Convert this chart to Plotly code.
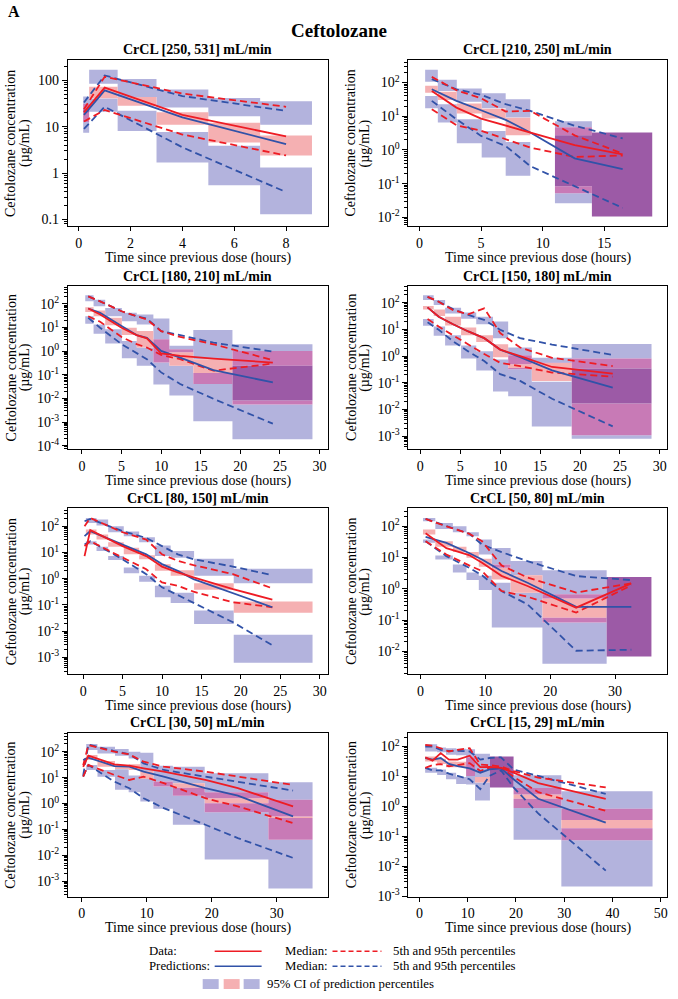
import math
import plotly.graph_objects as go

# ===================== DATA =====================
main_title = "Ceftolozane"
panel_label = "A"
panel_titles = ["CrCL [250, 531] mL/min", "CrCL [210, 250] mL/min",
                "CrCL [180, 210] mL/min", "CrCL [150, 180] mL/min",
                "CrCL [80, 150] mL/min", "CrCL [50, 80] mL/min",
                "CrCL [30, 50] mL/min", "CrCL [15, 29] mL/min"]
x_title = "Time since previous dose (hours)"
y_title_line1 = "Ceftolozane concentration"
y_title_line2 = "(µg/mL)"

# ---- Panel 1: CrCL [250, 531]
p1_t = [0.2, 1, 4, 8]
p1_obs_med = [20.5, 70, 18, 6.2]
p1_obs_p5 = [13, 23, 6.8, 2.4]
p1_obs_p95 = [24, 120, 52, 27]
p1_pred_med = [18, 61, 16, 4.2]
p1_pred_p5 = [9, 27, 3.6, 0.39]
p1_pred_p95 = [33.5, 128, 46, 22]
p1_bin_start = [0.17, 0.4, 1.5, 3, 5, 7]
p1_bin_end = [0.4, 1.5, 3, 5, 7, 9]
p1_ci_p5_low = [7.4, 21, 8.1, 1.69, 0.55, 0.13]
p1_ci_p5_high = [24, 41, 22.3, 7.7, 3.9, 1.32]
p1_ci_med_low = [12.6, 41.4, 28.4, 11, 4.57, 2.4]
p1_ci_med_high = [31, 73, 44, 20.5, 12.2, 6.5]
p1_ci_p95_low = [20, 85, 44, 26, 16.9, 11]
p1_ci_p95_high = [45, 169, 108, 64, 42, 35.7]

# ---- Panel 2: CrCL [210, 250]
p2_t = [1, 3, 5, 7, 9, 12.6, 16.5]
p2_obs_med = [56, 18, 8.5, 5.2, 3.3, 1.38, 0.74]
p2_obs_p5 = [16, 5.4, 3.7, 2.1, 1.17, 0.62, 0.68]
p2_obs_p95 = [147, 59, 34, 13.8, 14.4, 2.7, 0.78]
p2_pred_med = [63, 28.5, 15, 7.8, 3.3, 0.56, 0.27]
p2_pred_p5 = [28.5, 8.1, 2.6, 1.3, 0.33, 0.085, 0.019]
p2_pred_p95 = [126, 63, 43, 22.7, 14.4, 5.2, 2.2]
p2_bin_start = [0.46, 1.49, 3.03, 5.05, 7.0, 11.0, 14.0]
p2_bin_end = [1.49, 3.03, 5.05, 7.0, 9.0, 14.0, 18.9]
p2_ci_p5_low = [17.3, 6.5, 1.58, 0.59, 0.17, 0.026, 0.0105]
p2_ci_p5_high = [40, 22.7, 8.1, 3.66, 1.73, 2.73, 3.3]
p2_ci_med_low = [50, 30.5, 12, 8.5, 2.7, 0.052, 0.0105]
p2_ci_med_high = [80, 53, 24, 16.5, 9.0, 4.7, 3.3]
p2_ci_p95_low = [105, 56, 27, 17.3, 9.1, 0.083, 0.0105]
p2_ci_p95_high = [238, 120, 66, 48, 32, 7.1, 3.3]

# ---- Panel 3: CrCL [180, 210]
p3_t = [0.8, 2.3, 5.0, 6.9, 8.2, 10.0, 12.4, 16.6, 24.1]
p3_obs_med = [64, 36, 9.8, 4.8, 3.5, 0.80, 0.64, 0.49, 0.33]
p3_obs_p5 = [30, 17.6, 4.0, 2.0, 1.43, 0.70, 0.46, 0.15, 0.30]
p3_obs_p95 = [210, 129, 49, 30, 22, 7.1, 4.0, 1.97, 0.42]
p3_pred_med = [64, 42, 11.6, 4.8, 3.7, 1.03, 0.54, 0.16, 0.048]
p3_pred_p5 = [26, 9.8, 2.0, 0.8, 0.46, 0.127, 0.041, 0.0097, 0.00086]
p3_pred_p95 = [210, 129, 49, 30, 24, 7.1, 4.8, 2.3, 0.97]
p3_bin_start = [0.42, 1.47, 2.94, 5.04, 6.92, 9.02, 11.04, 14.06, 19.0]
p3_bin_end = [1.47, 2.94, 5.04, 6.92, 9.02, 11.04, 14.06, 19.0, 29.1]
p3_ci_p5_low = [14.5, 5.5, 2.1, 0.51, 0.24, 0.039, 0.0134, 0.0011, 0.00019]
p3_ci_p5_high = [30, 13.6, 8.4, 2.7, 1.43, 3.2, 0.24, 0.12, 0.24]
p3_ci_med_low = [46, 30, 12.7, 4.8, 1.43, 0.33, 0.24, 0.041, 0.0056]
p3_ci_med_high = [72, 53, 26, 9.8, 7.1, 3.2, 1.2, 0.46, 1.03]
p3_ci_p95_low = [129, 80, 30, 18.6, 13.6, 3.2, 0.9, 0.46, 0.0082]
p3_ci_p95_high = [231, 151, 68, 42, 36, 24, 1.7, 7.85, 1.97]

# ---- Panel 4: CrCL [150, 180]
p4_t = [0.9, 2.3, 4.1, 6.0, 8.0, 10.0, 12.5, 16.5, 24.1]
p4_obs_med = [67, 30, 15.7, 8.4, 4.7, 1.75, 0.99, 0.39, 0.22]
p4_obs_p5 = [24.8, 12.8, 6.0, 2.7, 1.2, 0.56, 0.42, 0.24, 0.17]
p4_obs_p95 = [167, 109, 53, 37, 62, 7.3, 2.1, 0.86, 0.42]
p4_pred_med = [67, 30, 15.7, 8.4, 4.7, 1.75, 0.91, 0.29, 0.066]
p4_pred_p5 = [18.6, 9.7, 3.6, 1.5, 0.65, 0.21, 0.117, 0.025, 0.0023]
p4_pred_p95 = [167, 109, 58, 35, 22.7, 9.7, 4.7, 2.7, 1.1]
p4_bin_start = [0.33, 1.67, 3.1, 5.1, 7.0, 9.1, 11.0, 13.96, 18.96]
p4_bin_end = [1.67, 3.1, 5.1, 7.0, 9.1, 11.0, 13.96, 18.96, 28.96]
p4_ci_p5_low = [13.6, 5.8, 2.5, 0.81, 0.29, 0.047, 0.031, 0.0023, 0.000796]
p4_ci_p5_high = [24.8, 12.8, 6.0, 2.5, 1.52, 0.74, 0.36, 0.11, 0.344]
p4_ci_med_low = [56, 32, 14, 6.0, 3.4, 0.91, 0.32, 0.117, 0.00106]
p4_ci_med_high = [75, 56, 30, 11.8, 6.0, 2.8, 1.08, 0.56, 0.81]
p4_ci_p95_low = [126, 82, 40, 25, 15.7, 4.7, 0.49, 0.55, 0.0168]
p4_ci_p95_high = [193, 126, 65, 43, 30, 19.7, 2.1, 0.86, 2.84]

# ---- Panel 5: CrCL [80, 150]
p5_t = [0.17, 0.9, 5, 8, 10, 12, 14, 19, 24]
p5_obs_med = [7.3, 71, 17.5, 7.3, 2.9, 1.73, 1.12, 0.40, 0.16]
p5_obs_p5 = [17.5, 27, 6.4, 2.3, 0.72, 0.54, 0.32, 0.127, 0.082]
p5_obs_p95 = [100, 207, 59, 31, 8.5, 4.8, 3.3, 1.5, 0.43]
p5_pred_med = [42, 65, 20, 8.5, 3.6, 2.0, 0.97, 0.29, 0.082]
p5_pred_p5 = [20, 27, 5.5, 1.5, 0.47, 0.24, 0.127, 0.022, 0.0029]
p5_pred_p95 = [155, 189, 65, 36, 17.5, 8.5, 5.5, 2.9, 1.37]
p5_bin_start = [0.34, 1.69, 3.17, 5.15, 7.1, 9.1, 11.1, 14.07, 19.1]
p5_bin_end = [1.69, 3.17, 5.15, 7.1, 9.1, 11.1, 14.07, 19.1, 29.1]
p5_ci_p5_low = [20, 11.3, 5.2, 1.63, 0.77, 0.196, 0.12, 0.019, 0.00063]
p5_ci_p5_high = [27, 16.6, 7.3, 2.7, 1.29, 0.54, 0.29, 0.062, 0.0074]
p5_ci_med_low = [48, 31, 16.6, 8.5, 5.5, 2.0, 1.29, 0.38, 0.05]
p5_ci_med_high = [75, 48, 24.8, 15.2, 7.8, 3.6, 2.1, 0.68, 0.135]
p5_ci_p95_low = [134, 106, 59, 42, 24.8, 7.3, 6.3, 1.29, 0.68]
p5_ci_p95_high = [207, 179, 100, 63, 38, 18.6, 11.3, 5.8, 2.4]

# ---- Panel 6: CrCL [50, 80]
p6_t = [0.8, 4, 7.5, 9.5, 12.5, 16.5, 24, 32.5]
p6_obs_med = [60, 20, 12, 6.8, 2.6, 1.23, 0.25, 1.5]
p6_obs_p5 = [33, 12.5, 5.6, 3.7, 0.85, 0.56, 0.174, 1.29]
p6_obs_p95 = [171, 99, 58, 33, 5.6, 2.3, 0.76, 1.5]
p6_pred_med = [46, 29.5, 14, 8.7, 3.7, 1.57, 0.264, 0.264]
p6_pred_p5 = [33, 11.1, 4.7, 2.7, 0.85, 0.32, 0.0105, 0.0113]
p6_pred_p95 = [171, 100, 58, 26, 14.9, 7.7, 2.56, 1.9]
p6_bin_start = [0.4, 2.3, 5.0, 7.1, 9.0, 11.0, 13.9, 18.8, 28.7]
p6_bin_end = [2.3, 5.0, 7.1, 9.0, 11.0, 13.9, 18.8, 28.7, 35.6]
p6_ci_p5_low = [29.5, 8.7, 3.3, 1.9, 0.92, 0.058, 0.058, 0.004, 0.0069]
p6_ci_p5_high = [37.7, 11.6, 6.0, 3.3, 2.6, 1.57, 0.75, 0.12, 2.4]
p6_ci_med_low = [54, 22, 14.9, 9.8, 5.1, 2.0, 0.75, 0.084, 0.0069]
p6_ci_med_high = [78, 33, 22, 14.9, 9.1, 6.0, 2.7, 0.67, 2.4]
p6_ci_p95_low = [144, 82, 64, 48, 12.5, 4.7, 2.7, 0.49, 0.0069]
p6_ci_p95_high = [184, 128, 100, 64, 37.7, 20, 7.7, 3.9, 2.4]

# ---- Panel 7: CrCL [30, 50]
p7_t = [0.2, 1.0, 5, 7.3, 9.5, 12.6, 19, 24, 32.5]
p7_obs_med = [26, 70, 32.6, 29, 22.9, 17, 8.1, 3.9, 0.77]
p7_obs_p5 = [10.9, 30.7, 12.7, 8.1, 10.9, 6.1, 1.6, 0.77, 0.175]
p7_obs_p95 = [30, 180, 100, 79, 41, 26.5, 17, 10.9, 5.2]
p7_pred_med = [48, 59, 28, 26.5, 17, 10.9, 3.9, 2.0, 0.316]
p7_pred_p5 = [10.9, 30.7, 7.0, 3.9, 1.6, 0.66, 0.151, 0.046, 0.0079]
p7_pred_p95 = [12, 191, 106, 79, 35.6, 19.7, 10.9, 7.0, 3.16]
p7_bin_start = [0.67, 2.4, 5.1, 7.2, 9.0, 11.0, 14.0, 18.9, 28.7]
p7_bin_end = [2.4, 5.1, 7.2, 9.0, 11.0, 14.0, 18.9, 28.7, 35.5]
p7_ci_p5_low = [19.7, 10.9, 3.4, 2.7, 1.2, 0.62, 0.151, 0.0068, 0.00052]
p7_ci_p5_high = [30.7, 19.7, 21, 12, 8.9, 5.5, 4.1, 1.03, 0.273]
p7_ci_med_low = [48, 26.5, 21.5, 19.7, 8.9, 4.5, 2.0, 0.46, 0.04]
p7_ci_med_high = [74, 44, 30.5, 33, 18, 7.0, 6.0, 2.7, 1.38]
p7_ci_p95_low = [116, 86, 70, 55, 18, 5.5, 6.0, 1.6, 0.316]
p7_ci_p95_high = [197, 156, 127, 100, 91, 29, 26.5, 14.7, 6.6]

# ---- Panel 8: CrCL [15, 29]
p8_t = [1.2, 2.7, 4.4, 6.1, 7.9, 10.4, 12.6, 14.5, 16.9, 19.5, 24.6, 38.6]
p8_obs_med = [43.7, 34, 60.5, 36.6, 36.6, 49.4, 20.5, 21, 19.5, 13.4, 6.0, 1.79]
p8_obs_p5 = [19.5, 24, 26, 22, 24, 28, 15.2, 19.5, 19.5, 9.7, 3.0, 0.71]
p8_obs_p95 = [113, 108, 88, 68.5, 78, 88, 25, 24, 21.5, 15.2, 9.2, 4.3]
p8_pred_med = [41.5, 36.6, 41.5, 26.4, 22.1, 18.6, 13.4, 17.2, 18.6, 8.1, 1.79, 0.286]
p8_pred_p5 = [19.5, 16, 16, 12.4, 10.4, 8.1, 3.8, 10.4, 16, 4.3, 0.58, 0.0071]
p8_pred_p95 = [100, 100, 78, 72, 72, 68.5, 36.6, 41.5, 43.7, 17.2, 10.4, 2.6]
p8_bin_start = [1.17, 3.66, 5.5, 7.6, 9.66, 11.5, 14.6, 19.5, 29.4]
p8_bin_end = [3.66, 5.5, 7.6, 9.66, 11.5, 14.6, 19.5, 29.4, 48.3]
p8_ci_p5_low = [13.4, 11.2, 8.1, 5.6, 5.4, 1.58, 4.3, 0.077, 0.0021]
p8_ci_p5_high = [19.5, 17.2, 13.4, 9.7, 10.4, 6.3, 47, 1.79, 0.187]
p8_ci_med_low = [32, 26, 20.5, 20.5, 10.4, 6.3, 4.3, 0.89, 0.074]
p8_ci_med_high = [47, 39, 32, 31, 44, 9.7, 47, 4.1, 0.84]
p8_ci_p95_low = [69, 65, 53, 51, 10.4, 9.7, 4.3, 2.5, 0.35]
p8_ci_p95_high = [119, 93, 88, 84, 82, 57.5, 47, 10.9, 3.2]

# ---- Tick values / labels
p1_xticks = [0, 2, 4, 6, 8]
p2_xticks = [0, 5, 10, 15]
p3_xticks = [0, 5, 10, 15, 20, 25, 30]
p4_xticks = [0, 5, 10, 15, 20, 25, 30]
p5_xticks = [0, 5, 10, 15, 20, 25, 30]
p6_xticks = [0, 10, 20, 30]
p7_xticks = [0, 10, 20, 30]
p8_xticks = [0, 10, 20, 30, 40, 50]

p1_yticks = [0.1, 1, 10, 100]
p1_ylabels = ["0.1", "1", "10", "100"]
p2_yticks = [0.01, 0.1, 1, 10, 100]
p2_ylabels = ["10<sup>-2</sup>", "10<sup>-1</sup>", "10<sup>0</sup>", "10<sup>1</sup>", "10<sup>2</sup>"]
p3_yticks = [0.0001, 0.001, 0.01, 0.1, 1, 10, 100]
p3_ylabels = ["10<sup>-4</sup>", "10<sup>-3</sup>", "10<sup>-2</sup>", "10<sup>-1</sup>", "10<sup>0</sup>", "10<sup>1</sup>", "10<sup>2</sup>"]
p4_yticks = [0.001, 0.01, 0.1, 1, 10, 100]
p4_ylabels = ["10<sup>-3</sup>", "10<sup>-2</sup>", "10<sup>-1</sup>", "10<sup>0</sup>", "10<sup>1</sup>", "10<sup>2</sup>"]
p5_yticks = p4_yticks
p5_ylabels = p4_ylabels
p6_yticks = p2_yticks
p6_ylabels = p2_ylabels
p7_yticks = p4_yticks
p7_ylabels = p4_ylabels
p8_yticks = p4_yticks
p8_ylabels = p4_ylabels

legend_data = "Data:"
legend_pred = "Predictions:"
legend_median = "Median:"
legend_pct = "5th and 95th percentiles"
legend_ci = "95% CI of prediction percentiles"

# ===================== LAYOUT / STYLE =====================
W, H = 678, 999
FONT = "Liberation Serif, Times New Roman, serif"
RED = "#ee1c24"
BLUE = "#3152a8"
FILL = {(1, 0): "#b3b3dd", (2, 0): "#9a9ad2", (0, 1): "#f5b0b2",
        (1, 1): "#c87ab6", (2, 1): "#9c5aa6"}

LEFT = (68, 328)
RIGHT = (409, 668)
ROWS = [(60, 228), (288, 452), (512, 679), (738, 903)]
BOXES = [(LEFT, ROWS[0]), (RIGHT, ROWS[0]), (LEFT, ROWS[1]), (RIGHT, ROWS[1]),
         (LEFT, ROWS[2]), (RIGHT, ROWS[2]), (LEFT, ROWS[3]), (RIGHT, ROWS[3])]
XRANGES = [(-0.42, 9.6), (-0.9, 20.1), (-1.77, 31.0), (-1.5, 30.9),
           (-1.94, 31.0), (-1.85, 38.0), (-2.15, 37.8), (-2.3, 51.3)]
YRANGES = [(-1.15, 2.45), (-2.27, 2.68), (-4.13, 2.76), (-3.48, 2.63),
           (-3.64, 2.68), (-2.73, 2.57), (-3.6, 2.73), (-3.02, 2.46)]

panels = [
    (p1_t, p1_obs_med, p1_obs_p5, p1_obs_p95, p1_pred_med, p1_pred_p5, p1_pred_p95,
     p1_bin_start, p1_bin_end, p1_ci_p5_low, p1_ci_p5_high, p1_ci_med_low, p1_ci_med_high,
     p1_ci_p95_low, p1_ci_p95_high, p1_xticks, p1_yticks, p1_ylabels),
    (p2_t, p2_obs_med, p2_obs_p5, p2_obs_p95, p2_pred_med, p2_pred_p5, p2_pred_p95,
     p2_bin_start, p2_bin_end, p2_ci_p5_low, p2_ci_p5_high, p2_ci_med_low, p2_ci_med_high,
     p2_ci_p95_low, p2_ci_p95_high, p2_xticks, p2_yticks, p2_ylabels),
    (p3_t, p3_obs_med, p3_obs_p5, p3_obs_p95, p3_pred_med, p3_pred_p5, p3_pred_p95,
     p3_bin_start, p3_bin_end, p3_ci_p5_low, p3_ci_p5_high, p3_ci_med_low, p3_ci_med_high,
     p3_ci_p95_low, p3_ci_p95_high, p3_xticks, p3_yticks, p3_ylabels),
    (p4_t, p4_obs_med, p4_obs_p5, p4_obs_p95, p4_pred_med, p4_pred_p5, p4_pred_p95,
     p4_bin_start, p4_bin_end, p4_ci_p5_low, p4_ci_p5_high, p4_ci_med_low, p4_ci_med_high,
     p4_ci_p95_low, p4_ci_p95_high, p4_xticks, p4_yticks, p4_ylabels),
    (p5_t, p5_obs_med, p5_obs_p5, p5_obs_p95, p5_pred_med, p5_pred_p5, p5_pred_p95,
     p5_bin_start, p5_bin_end, p5_ci_p5_low, p5_ci_p5_high, p5_ci_med_low, p5_ci_med_high,
     p5_ci_p95_low, p5_ci_p95_high, p5_xticks, p5_yticks, p5_ylabels),
    (p6_t, p6_obs_med, p6_obs_p5, p6_obs_p95, p6_pred_med, p6_pred_p5, p6_pred_p95,
     p6_bin_start, p6_bin_end, p6_ci_p5_low, p6_ci_p5_high, p6_ci_med_low, p6_ci_med_high,
     p6_ci_p95_low, p6_ci_p95_high, p6_xticks, p6_yticks, p6_ylabels),
    (p7_t, p7_obs_med, p7_obs_p5, p7_obs_p95, p7_pred_med, p7_pred_p5, p7_pred_p95,
     p7_bin_start, p7_bin_end, p7_ci_p5_low, p7_ci_p5_high, p7_ci_med_low, p7_ci_med_high,
     p7_ci_p95_low, p7_ci_p95_high, p7_xticks, p7_yticks, p7_ylabels),
    (p8_t, p8_obs_med, p8_obs_p5, p8_obs_p95, p8_pred_med, p8_pred_p5, p8_pred_p95,
     p8_bin_start, p8_bin_end, p8_ci_p5_low, p8_ci_p5_high, p8_ci_med_low, p8_ci_med_high,
     p8_ci_p95_low, p8_ci_p95_high, p8_xticks, p8_yticks, p8_ylabels),
]

MINOR = [m * 10.0 ** e for e in range(-5, 3) for m in range(2, 10)]


def px(x):
    return x / W


def py(y):
    return 1 - y / H


fig = go.Figure()
annotations = []
shapes = []

for k, pan in enumerate(panels):
    (t, om, o5, o95, pm, p5, p95, bs, be, c5l, c5h, cml, cmh, c95l, c95h,
     xt, yt, yl) = pan
    idx = "" if k == 0 else str(k + 1)
    xa, ya = "x" + idx, "y" + idx

    # --- CI rectangles (colour by overlap count)
    groups = {}
    for i in range(len(bs)):
        edges = sorted(set([c5l[i], c5h[i], cml[i], cmh[i], c95l[i], c95h[i]]))
        segs = []
        for e0, e1 in zip(edges[:-1], edges[1:]):
            m = math.sqrt(e0 * e1)
            nb = int(c5l[i] <= m <= c5h[i]) + int(c95l[i] <= m <= c95h[i])
            npk = int(cml[i] <= m <= cmh[i])
            if nb + npk == 0:
                continue
            key = (nb, npk)
            if segs and segs[-1][2] == key and segs[-1][1] == e0:
                segs[-1][1] = e1
            else:
                segs.append([e0, e1, key])
        for e0, e1, key in segs:
            gx, gy = groups.setdefault(key, ([], []))
            gx += [bs[i], be[i], be[i], bs[i], bs[i], None]
            gy += [e0, e0, e1, e1, e0, None]
    for key, (gx, gy) in groups.items():
        fig.add_trace(go.Scatter(x=gx, y=gy, fill="toself", mode="none",
                                 fillcolor=FILL[key], xaxis=xa, yaxis=ya,
                                 hoverinfo="skip", showlegend=False))

    # --- lines
    for yv, col, dash in [(p5, BLUE, "7px,4px"), (p95, BLUE, "7px,4px"),
                          (o5, RED, "7px,4px"), (o95, RED, "7px,4px"),
                          (pm, BLUE, "solid"), (om, RED, "solid")]:
        fig.add_trace(go.Scatter(x=t, y=yv, mode="lines",
                                 line=dict(color=col, width=1.8, dash=dash),
                                 xaxis=xa, yaxis=ya, hoverinfo="skip",
                                 showlegend=False))

    (x0, x1), (y0, y1) = BOXES[k]
    fig.update_layout(**{
        "xaxis" + idx: dict(domain=[px(x0), px(x1)], range=list(XRANGES[k]),
                            anchor=ya, tickmode="array", tickvals=xt,
                            ticks="outside", ticklen=4, tickcolor="black",
                            showline=True, mirror=True, linecolor="black",
                            linewidth=1, showgrid=False, zeroline=False,
                            tickfont=dict(family=FONT, size=14, color="black")),
        "yaxis" + idx: dict(domain=[py(y1), py(y0)], range=list(YRANGES[k]),
                            type="log", anchor=xa, tickmode="array",
                            tickvals=yt, ticktext=yl, ticks="outside",
                            ticklen=5, tickcolor="black", showline=True,
                            mirror=True, linecolor="black", linewidth=1,
                            showgrid=False, zeroline=False,
                            minor=dict(tickmode="array", tickvals=MINOR,
                                       ticks="outside", ticklen=3,
                                       tickcolor="black", showgrid=False),
                            tickfont=dict(family=FONT, size=14, color="black")),
    })

    cx = (x0 + x1) / 2
    cy = (y0 + y1) / 2
    annotations.append(dict(x=px(cx), y=py(y0 - 10), xref="paper", yref="paper",
                            text="<b>" + panel_titles[k] + "</b>", showarrow=False,
                            xanchor="center", yanchor="middle",
                            font=dict(family=FONT, size=14, color="black")))
    annotations.append(dict(x=px(cx), y=py(y1 + 32), xref="paper", yref="paper",
                            text=x_title, showarrow=False, xanchor="center",
                            yanchor="middle",
                            font=dict(family=FONT, size=14, color="black")))
    annotations.append(dict(x=px(x0 - 57), y=py(cy), xref="paper", yref="paper",
                            text=y_title_line1, showarrow=False, textangle=-90,
                            xanchor="center", yanchor="middle",
                            font=dict(family=FONT, size=14, color="black")))
    annotations.append(dict(x=px(x0 - 43), y=py(cy), xref="paper", yref="paper",
                            text=y_title_line2, showarrow=False, textangle=-90,
                            xanchor="center", yanchor="middle",
                            font=dict(family=FONT, size=14, color="black")))

# --- headings
annotations.append(dict(x=px(14), y=py(12), xref="paper", yref="paper",
                        text="<b>" + panel_label + "</b>", showarrow=False,
                        xanchor="center", yanchor="middle",
                        font=dict(family=FONT, size=16, color="black")))
annotations.append(dict(x=px(340), y=py(31), xref="paper", yref="paper",
                        text="<b>" + main_title + "</b>", showarrow=False,
                        xanchor="center", yanchor="middle",
                        font=dict(family=FONT, size=19, color="black")))

# --- legend
LF = dict(family=FONT, size=12.8, color="black")
for yy, lab, col in [(958, legend_data, RED), (973, legend_pred, BLUE)]:
    annotations.append(dict(x=px(147), y=py(yy), xref="paper", yref="paper", text=lab,
                            showarrow=False, xanchor="left", yanchor="middle", font=LF))
    annotations.append(dict(x=px(283), y=py(yy), xref="paper", yref="paper", text=legend_median,
                            showarrow=False, xanchor="left", yanchor="middle", font=LF))
    annotations.append(dict(x=px(392), y=py(yy), xref="paper", yref="paper", text=legend_pct,
                            showarrow=False, xanchor="left", yanchor="middle", font=LF))
    shapes.append(dict(type="line", xref="paper", yref="paper", x0=px(215), x1=px(262),
                       y0=py(yy), y1=py(yy), line=dict(color=col, width=1.5)))
    shapes.append(dict(type="line", xref="paper", yref="paper", x0=px(333), x1=px(382),
                       y0=py(yy), y1=py(yy), line=dict(color=col, width=1.5, dash="5px,3px")))
for (sx0, sx1), col in [((203, 219), FILL[(1, 0)]), ((224, 240), FILL[(0, 1)]),
                        ((244, 260), FILL[(1, 0)])]:
    shapes.append(dict(type="rect", xref="paper", yref="paper", x0=px(sx0), x1=px(sx1),
                       y0=py(996), y1=py(986), fillcolor=col, line=dict(width=0)))
annotations.append(dict(x=px(265), y=py(991), xref="paper", yref="paper", text=legend_ci,
                        showarrow=False, xanchor="left", yanchor="middle", font=LF))

fig.update_layout(width=W, height=H, margin=dict(l=0, r=0, t=0, b=0),
                  paper_bgcolor="white", plot_bgcolor="white",
                  showlegend=False, annotations=annotations, shapes=shapes,
                  font=dict(family=FONT, color="black"))

fig.write_html("out.html", config={"displayModeBar": False},
               post_script="document.body.style.margin='0';")
